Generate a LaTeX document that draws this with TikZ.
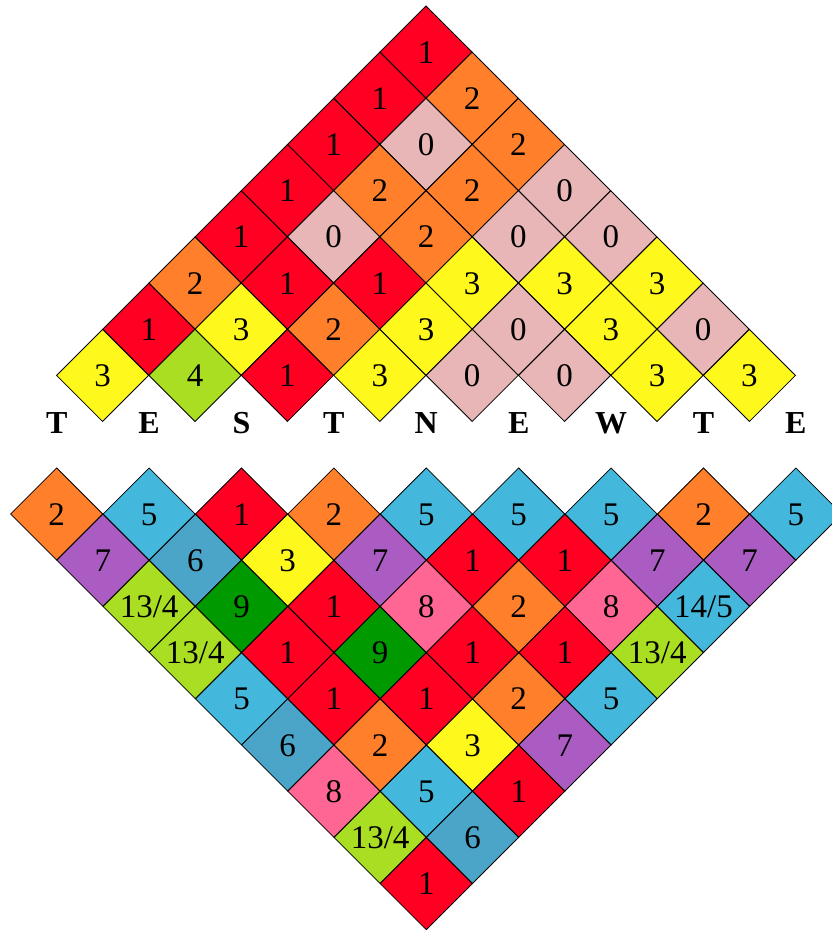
\documentclass[tikz,border=0pt]{standalone}
\usepackage{fontspec}
\setmainfont{Liberation Serif}
\newfontfamily\cellfont{Liberation Serif}
\usetikzlibrary{shapes.geometric}
\definecolor{c0}{HTML}{E8B6B6}
\definecolor{c1}{HTML}{FF0022}
\definecolor{c2}{HTML}{FF7F2A}
\definecolor{c3}{HTML}{FFF81C}
\definecolor{c4}{HTML}{AADE22}
\definecolor{c5}{HTML}{44B8DC}
\definecolor{c6}{HTML}{4BA5C8}
\definecolor{c7}{HTML}{AA5CC3}
\definecolor{c8}{HTML}{FF6694}
\definecolor{c9}{HTML}{009900}
\begin{document}
\begin{tikzpicture}[x=1pt,y=-1pt,
  cell/.style={diamond, draw=black, line width=0.8pt, aspect=1,
    minimum width=92.4pt, minimum height=92.4pt, inner sep=0pt,
    text height=22pt, text depth=0pt,
    font=\cellfont\fontsize{33}{33}\selectfont},
  lett/.style={anchor=base, inner sep=0pt, font=\cellfont\fontsize{32}{32}\selectfont\bfseries}]
\useasboundingbox (0,0) rectangle (832,930);
% upper triangle
\foreach \row [count=\r from 0] in {
 {1/c1},
 {1/c1,2/c2},
 {1/c1,0/c0,2/c2},
 {1/c1,2/c2,2/c2,0/c0},
 {1/c1,0/c0,2/c2,0/c0,0/c0},
 {2/c2,1/c1,1/c1,3/c3,3/c3,3/c3},
 {1/c1,3/c3,2/c2,3/c3,0/c0,3/c3,0/c0},
 {3/c3,4/c4,1/c1,3/c3,0/c0,0/c0,3/c3,3/c3}}
{
  \foreach \v/\c [count=\k from 0] in \row {
    \node[cell, fill=\c] (t-\r-\k) at ({426+(2*\k-\r)*46.2}, {52+\r*46.2}) {\v};
  }
}
% letters
\foreach \L [count=\k from 0] in {T,E,S,T,N,E,W,T,E} {
  \node[lett] (l-\k) at ({56.7+2*\k*46.2}, 433.3) {\L};
}
% lower triangle
\foreach \row [count=\r from 0] in {
 {2/c2,5/c5,1/c1,2/c2,5/c5,5/c5,5/c5,2/c2,5/c5},
 {7/c7,6/c6,3/c3,7/c7,1/c1,1/c1,7/c7,7/c7},
 {{13/4}/c4,9/c9,1/c1,8/c8,2/c2,8/c8,{14/5}/c5},
 {{13/4}/c4,1/c1,9/c9,1/c1,1/c1,{13/4}/c4},
 {5/c5,1/c1,1/c1,2/c2,5/c5},
 {6/c6,2/c2,3/c3,7/c7},
 {8/c8,5/c5,1/c1},
 {{13/4}/c4,6/c6},
 {1/c1}}
{
  \foreach \v/\c [count=\k from 0] in \row {
    \node[cell, fill=\c] (b-\r-\k) at ({56.7+(\r+2*\k)*46.2}, {514+\r*46.2}) {\v};
  }
}
\end{tikzpicture}
\end{document}
